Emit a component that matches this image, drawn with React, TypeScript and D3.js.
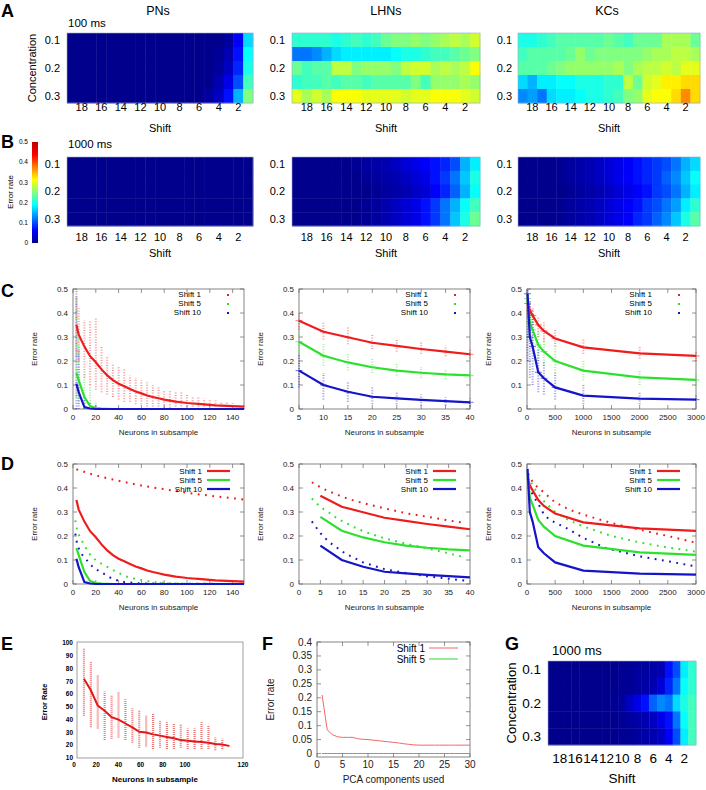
import React from 'react';
import * as d3 from 'd3';

// ---------- heatmap data (rows: concentration 0.1..0.3, columns: shift 19..1) ----------
const shifts = [19, 18, 17, 16, 15, 14, 13, 12, 11, 10, 9, 8, 7, 6, 5, 4, 3, 2, 1];
const shiftTicks = [18, 16, 14, 12, 10, 8, 6, 4, 2];
const concentrations = [0.1, 0.15, 0.2, 0.25, 0.3];
const concTicks = [0.1, 0.2, 0.3];
const colorTicks = [0, 0.1, 0.2, 0.3, 0.4, 0.5];

const pn100 = [
  [0, 0, 0, 0, 0, 0, 0, 0, 0, 0, 0, 0, 0, 0, 0, 0, 0.01, 0.06, 0.17],
  [0, 0, 0, 0, 0, 0, 0, 0, 0, 0, 0, 0, 0, 0, 0, 0.005, 0.02, 0.07, 0.19],
  [0, 0, 0, 0, 0, 0, 0, 0, 0, 0, 0, 0, 0, 0, 0, 0.01, 0.03, 0.08, 0.2],
  [0, 0, 0, 0, 0, 0, 0, 0, 0, 0, 0, 0, 0, 0, 0, 0.02, 0.05, 0.1, 0.22],
  [0, 0, 0, 0, 0, 0, 0, 0, 0, 0, 0, 0, 0, 0, 0.01, 0.03, 0.07, 0.15, 0.25],
];
const lhn100 = [
  [0.21, 0.21, 0.21, 0.21, 0.2, 0.21, 0.22, 0.21, 0.22, 0.24, 0.25, 0.25, 0.26, 0.25, 0.26, 0.27, 0.28, 0.27, 0.29],
  [0.12, 0.12, 0.13, 0.15, 0.17, 0.18, 0.18, 0.18, 0.18, 0.18, 0.19, 0.2, 0.2, 0.21, 0.22, 0.22, 0.23, 0.24, 0.25],
  [0.24, 0.22, 0.23, 0.23, 0.28, 0.28, 0.25, 0.26, 0.26, 0.26, 0.25, 0.28, 0.29, 0.29, 0.27, 0.28, 0.27, 0.28, 0.31],
  [0.21, 0.22, 0.22, 0.23, 0.22, 0.23, 0.23, 0.22, 0.23, 0.23, 0.23, 0.23, 0.25, 0.22, 0.26, 0.26, 0.26, 0.27, 0.26],
  [0.3, 0.27, 0.29, 0.27, 0.31, 0.31, 0.31, 0.3, 0.3, 0.3, 0.3, 0.29, 0.3, 0.3, 0.31, 0.31, 0.31, 0.3, 0.29],
];
const kc100 = [
  [0.2, 0.2, 0.21, 0.22, 0.23, 0.23, 0.23, 0.23, 0.23, 0.24, 0.23, 0.22, 0.24, 0.24, 0.24, 0.27, 0.27, 0.27, 0.24],
  [0.22, 0.23, 0.23, 0.23, 0.23, 0.24, 0.26, 0.24, 0.25, 0.25, 0.25, 0.25, 0.25, 0.26, 0.27, 0.27, 0.28, 0.28, 0.27],
  [0.23, 0.23, 0.23, 0.24, 0.25, 0.26, 0.26, 0.26, 0.26, 0.26, 0.27, 0.25, 0.27, 0.28, 0.28, 0.29, 0.28, 0.3, 0.3],
  [0.17, 0.15, 0.18, 0.18, 0.19, 0.19, 0.2, 0.2, 0.2, 0.21, 0.21, 0.28, 0.24, 0.29, 0.3, 0.32, 0.32, 0.33, 0.33],
  [0.13, 0.14, 0.12, 0.17, 0.18, 0.18, 0.19, 0.2, 0.2, 0.21, 0.22, 0.25, 0.26, 0.3, 0.31, 0.31, 0.33, 0.37, 0.33],
];
const pn1000 = [
  [0, 0, 0, 0, 0, 0, 0, 0, 0, 0, 0, 0, 0, 0, 0, 0, 0, 0, 0],
  [0, 0, 0, 0, 0, 0, 0, 0, 0, 0, 0, 0, 0, 0, 0, 0, 0, 0, 0],
  [0, 0, 0, 0, 0, 0, 0, 0, 0, 0, 0, 0, 0, 0, 0, 0, 0, 0, 0],
  [0, 0, 0, 0, 0, 0, 0, 0, 0, 0, 0, 0, 0, 0, 0, 0, 0, 0, 0],
  [0, 0, 0, 0, 0, 0, 0, 0, 0, 0, 0, 0, 0, 0, 0, 0, 0, 0, 0],
];
const lhn1000 = [
  [0, 0, 0, 0, 0, 0, 0.005, 0.01, 0.015, 0.02, 0.03, 0.04, 0.05, 0.06, 0.07, 0.08, 0.1, 0.15, 0.18],
  [0, 0, 0, 0, 0, 0, 0, 0.005, 0.01, 0.015, 0.02, 0.03, 0.04, 0.05, 0.07, 0.09, 0.12, 0.16, 0.2],
  [0, 0, 0, 0, 0, 0, 0, 0, 0.005, 0.01, 0.015, 0.02, 0.03, 0.04, 0.06, 0.08, 0.11, 0.15, 0.19],
  [0, 0, 0, 0, 0, 0, 0, 0.005, 0.01, 0.02, 0.03, 0.04, 0.05, 0.07, 0.09, 0.12, 0.15, 0.19, 0.22],
  [0, 0, 0, 0, 0, 0, 0, 0.005, 0.01, 0.02, 0.03, 0.04, 0.05, 0.07, 0.09, 0.12, 0.16, 0.2, 0.24],
];
const kc1000 = [
  [0, 0, 0, 0, 0.005, 0.01, 0.015, 0.02, 0.03, 0.04, 0.05, 0.06, 0.07, 0.08, 0.09, 0.1, 0.12, 0.15, 0.17],
  [0, 0, 0, 0, 0.005, 0.01, 0.015, 0.02, 0.03, 0.04, 0.05, 0.06, 0.07, 0.08, 0.09, 0.11, 0.13, 0.16, 0.19],
  [0, 0, 0, 0, 0, 0.005, 0.01, 0.015, 0.02, 0.03, 0.04, 0.05, 0.06, 0.07, 0.09, 0.1, 0.12, 0.15, 0.18],
  [0, 0, 0, 0, 0.005, 0.01, 0.015, 0.02, 0.03, 0.04, 0.05, 0.06, 0.07, 0.09, 0.1, 0.12, 0.14, 0.18, 0.21],
  [0, 0, 0, 0, 0.005, 0.01, 0.015, 0.02, 0.03, 0.04, 0.05, 0.06, 0.08, 0.09, 0.11, 0.13, 0.16, 0.2, 0.23],
];
const g1000 = [
  [0, 0, 0, 0, 0, 0, 0, 0, 0, 0.005, 0.005, 0.01, 0.01, 0.015, 0.02, 0.07, 0.1, 0.18, 0.21],
  [0, 0, 0, 0, 0, 0, 0, 0, 0, 0.005, 0.005, 0.01, 0.015, 0.02, 0.04, 0.08, 0.12, 0.19, 0.21],
  [0, 0, 0, 0, 0, 0, 0, 0, 0.005, 0.01, 0.03, 0.05, 0.07, 0.11, 0.13, 0.12, 0.17, 0.2, 0.22],
  [0, 0, 0, 0, 0, 0, 0, 0, 0, 0.005, 0.01, 0.015, 0.02, 0.03, 0.05, 0.07, 0.12, 0.19, 0.22],
  [0, 0, 0, 0, 0, 0, 0, 0, 0, 0.005, 0.005, 0.01, 0.015, 0.02, 0.03, 0.06, 0.1, 0.18, 0.22],
];

// ---------- C / D : PNs ----------
const pnN = [3, 5, 10, 15, 20, 25, 30, 35, 40, 45, 50, 55, 60, 65, 70, 75, 80, 85, 90, 95, 100, 105, 110, 115, 120, 125, 130, 135, 140, 145, 150];
const pnMean1 = [0.35, 0.31, 0.26, 0.22, 0.195, 0.165, 0.14, 0.12, 0.105, 0.095, 0.083, 0.073, 0.065, 0.056, 0.05, 0.045, 0.039, 0.035, 0.031, 0.028, 0.025, 0.023, 0.021, 0.019, 0.017, 0.015, 0.014, 0.013, 0.012, 0.011, 0.01];
const pnMean5 = [0.15, 0.12, 0.05, 0.012, 0.004, 0.002, 0.001, 0, 0, 0, 0, 0, 0, 0, 0, 0, 0, 0, 0, 0, 0, 0, 0, 0, 0, 0, 0, 0, 0, 0, 0];
const pnMean10 = [0.105, 0.07, 0.008, 0.002, 0, 0, 0, 0, 0, 0, 0, 0, 0, 0, 0, 0, 0, 0, 0, 0, 0, 0, 0, 0, 0, 0, 0, 0, 0, 0, 0];
const pnRange1 = [[0.22, 0.47], [0.2, 0.42], [0.13, 0.37], [0.1, 0.37], [0.08, 0.38], [0.07, 0.26], [0.06, 0.22], [0.05, 0.19], [0.04, 0.18], [0.03, 0.17], [0.03, 0.14], [0.02, 0.13], [0.02, 0.12], [0.01, 0.11], [0.01, 0.1], [0.01, 0.09], [0.005, 0.08], [0.005, 0.08], [0, 0.07], [0, 0.07], [0, 0.06], [0, 0.05], [0, 0.05], [0, 0.045], [0, 0.04], [0, 0.035], [0, 0.03], [0, 0.03], [0, 0.025], [0, 0.02], [0, 0.02]];
const pnRange5 = [[0.05, 0.47], [0.02, 0.3], [0, 0.15], [0, 0.1], [0, 0.03]];
const pnRange10 = [[0, 0.5], [0, 0.25], [0, 0.05], [0, 0.03], [0, 0.02]];
const pnDotN1 = [3, 20, 40, 60, 80, 100, 120, 150];
const pnDot1 = [0.478, 0.452, 0.43, 0.41, 0.395, 0.38, 0.368, 0.352];
const pnDotN5 = [2, 4, 10, 15, 21, 29, 37, 46, 58, 70, 85, 100, 150];
const pnDot5 = [0.265, 0.215, 0.16, 0.122, 0.094, 0.074, 0.053, 0.032, 0.018, 0.008, 0.003, 0.001, 0];
const pnDotN10 = [2, 4, 8, 13, 18, 26, 35, 45, 60, 150];
const pnDot10 = [0.21, 0.157, 0.122, 0.094, 0.067, 0.046, 0.02, 0.008, 0.002, 0];

// ---------- C / D : LHNs ----------
const lhnN = [5, 10, 15, 20, 25, 30, 35, 40];
const lhnMean1 = [0.368, 0.322, 0.299, 0.276, 0.263, 0.25, 0.239, 0.228];
const lhnMean5 = [0.28, 0.222, 0.194, 0.174, 0.16, 0.151, 0.144, 0.14];
const lhnMean10 = [0.16, 0.1, 0.072, 0.051, 0.044, 0.038, 0.033, 0.028];
const lhnRange1 = [[0.33, 0.4], [0.29, 0.36], [0.27, 0.34], [0.25, 0.31], [0.24, 0.29], [0.23, 0.28], [0.22, 0.265], [0.21, 0.25]];
const lhnRange5 = [[0.22, 0.32], [0.18, 0.27], [0.16, 0.235], [0.15, 0.21], [0.14, 0.19], [0.13, 0.175], [0.125, 0.165], [0.12, 0.16]];
const lhnRange10 = [[0.09, 0.23], [0.04, 0.15], [0.03, 0.11], [0.02, 0.09], [0.02, 0.07], [0.015, 0.06], [0.015, 0.05], [0.01, 0.045]];
const lhnDotN = [3, 5, 7, 9, 11, 13, 15, 20, 25, 30, 35, 39];
const lhnDot1 = [0.424, 0.403, 0.386, 0.372, 0.358, 0.347, 0.337, 0.315, 0.295, 0.28, 0.265, 0.254];
const lhnDot5 = [0.356, 0.321, 0.298, 0.272, 0.254, 0.236, 0.22, 0.19, 0.168, 0.148, 0.128, 0.11];
const lhnDot10 = [0.261, 0.212, 0.175, 0.15, 0.125, 0.108, 0.09, 0.062, 0.046, 0.032, 0.022, 0.014];

// ---------- C / D : KCs ----------
const kcN = [10, 50, 100, 200, 300, 500, 1000, 2000, 3000];
const kcMean1 = [0.44, 0.41, 0.39, 0.35, 0.325, 0.294, 0.257, 0.232, 0.221];
const kcMean5 = [0.46, 0.36, 0.33, 0.267, 0.239, 0.2, 0.16, 0.132, 0.121];
const kcMean10 = [0.48, 0.3, 0.26, 0.153, 0.128, 0.09, 0.056, 0.043, 0.039];
const kcRange1 = [[0.38, 0.5], [0.36, 0.45], [0.35, 0.42], [0.3, 0.38], [0.28, 0.36], [0.26, 0.33], [0.23, 0.29], [0.21, 0.26], [0.2, 0.24]];
const kcRange5 = [[0.3, 0.5], [0.28, 0.43], [0.24, 0.4], [0.2, 0.33], [0.18, 0.3], [0.15, 0.26], [0.12, 0.2], [0.1, 0.16], [0.1, 0.15]];
const kcRange10 = [[0.2, 0.5], [0.13, 0.45], [0.1, 0.4], [0.07, 0.25], [0.06, 0.2], [0.04, 0.15], [0.02, 0.1], [0.02, 0.07], [0.02, 0.06]];
const kcDotN1 = [20, 100, 200, 300, 400, 500, 750, 1000, 1500, 2000, 2500, 3000];
const kcDot1 = [0.46, 0.425, 0.4, 0.382, 0.36, 0.34, 0.31, 0.289, 0.254, 0.226, 0.2, 0.172];
const kcDotN5 = [20, 100, 200, 300, 500, 750, 1000, 1500, 2000, 2500, 3000];
const kcDot5 = [0.45, 0.41, 0.375, 0.345, 0.3, 0.265, 0.24, 0.2, 0.173, 0.152, 0.135];
const kcDotN10 = [20, 100, 200, 300, 400, 700, 1000, 1400, 2000, 2500, 3000];
const kcDot10 = [0.44, 0.37, 0.335, 0.29, 0.268, 0.233, 0.192, 0.15, 0.115, 0.095, 0.073];

// ---------- E ----------
const eN = [5, 10, 15, 20, 25, 30, 35, 40, 45, 50, 55, 60, 65, 70, 75, 80, 85, 90, 95, 100, 105, 110];
const eMean = [72, 63, 51, 47, 42, 40, 37, 34, 30.5, 30, 28.5, 27.5, 26.5, 25.5, 24, 23.5, 23, 22.5, 22, 21, 20.5, 19.5];
const eRange = [[43, 96], [34, 85], [33, 75], [24, 62], [25, 59], [26, 62], [24, 56], [22, 49], [18, 47], [19, 43], [17, 45], [18, 39], [17, 38], [17, 37], [18, 36], [17, 33], [17, 33], [17, 38], [17, 35], [16, 26], [17, 25], [19, 20]];
const eYTicks = [10, 20, 30, 40, 50, 60, 70, 80, 90, 100];
const eXTicks = [0, 20, 40, 60, 80, 100];

// ---------- F ----------
const pcaN = [1, 2, 3, 4, 5, 6, 7, 8, 9, 10, 11, 12, 13, 14, 15, 16, 17, 18, 19, 20, 21, 22, 23, 24, 25, 26, 27, 28, 29, 30];
const pcaShift1 = [0.21, 0.085, 0.068, 0.06, 0.058, 0.058, 0.058, 0.053, 0.051, 0.05, 0.048, 0.046, 0.044, 0.042, 0.04, 0.038, 0.035, 0.033, 0.031, 0.03, 0.03, 0.03, 0.03, 0.03, 0.03, 0.03, 0.03, 0.03, 0.03, 0.03];
const pcaShift5 = [0, 0, 0, 0, 0, 0, 0, 0, 0, 0, 0, 0, 0, 0, 0, 0, 0, 0, 0, 0, 0, 0, 0, 0, 0, 0, 0, 0, 0, 0];
const fYTicks = [0, 0.05, 0.1, 0.15, 0.2, 0.25, 0.3, 0.35, 0.4];
const fXTicks = [0, 5, 10, 15, 20, 25, 30];

const errTicks = [0, 0.1, 0.2, 0.3, 0.4, 0.5];
const seriesNames = ['Shift 1', 'Shift 5', 'Shift 10'];

const FONT = "'Liberation Sans', Arial, Helvetica, sans-serif";
const RED = '#ee1c1c';
const GREEN = '#2ee02e';
const BLUE = '#1414c8';
const colors = [RED, GREEN, BLUE];

const jetStops = [0, 0.0625, 0.1875, 0.3125, 0.4375, 0.5];
const jetColors = ['#00008c', '#0000ff', '#00ffff', '#ffff00', '#ff0000', '#c00000'];
const jet = d3.scaleLinear<string>().domain(jetStops).range(jetColors).clamp(true);

const fmt = (v: number) => (v === 0 ? '0' : String(+v.toFixed(2)));

function Heatmap({ data, x0, x1, y0, y1, fs, labelRight, tickY, shiftY }: any) {
  const x = d3.scaleBand<number>().domain(shifts).range([x0, x1]);
  const y = d3.scaleBand<number>().domain(concentrations).range([y0, y1]);
  return (
    <g fontSize={fs}>
      {data.map((row: number[], i: number) =>
        row.map((v, j) => (
          <rect key={`${i}-${j}`} x={x(shifts[j])} y={y(concentrations[i])}
            width={x.bandwidth() + 0.4} height={y.bandwidth() + 0.4} fill={jet(v)} />
        )))}
      <rect x={x0} y={y0} width={x1 - x0} height={y1 - y0} fill="none" stroke="#9aa8d0" strokeWidth={0.6} />
      {concTicks.map((c) => (
        <text key={c} x={labelRight} y={(y(c) as number) + y.bandwidth() / 2} dy="0.36em" textAnchor="end">{c}</text>
      ))}
      {shiftTicks.map((s) => (
        <text key={s} x={(x(s) as number) + x.bandwidth() / 2} y={tickY} textAnchor="middle">{s}</text>
      ))}
      <text x={(x0 + x1) / 2} y={shiftY} textAnchor="middle">Shift</text>
    </g>
  );
}

// gnuplot-like frame with mirrored inward ticks
function Frame({ xs, ys, xTicks, yTicks, fs, xLabel, yLabel, xFmt = fmt, yFmt = fmt, yLabelDx = 36 }: any) {
  const [x0, x1] = xs.range();
  const [y1, y0] = ys.range();
  const t = 4;
  return (
    <g fontSize={fs} fill="#222">
      <rect x={x0} y={y0} width={x1 - x0} height={y1 - y0} fill="none" stroke="#666" strokeWidth={0.8} />
      {xTicks.map((v: number) => (
        <g key={'x' + v}>
          <line x1={xs(v)} x2={xs(v)} y1={y1} y2={y1 - t} stroke="#666" strokeWidth={0.7} />
          <line x1={xs(v)} x2={xs(v)} y1={y0} y2={y0 + t} stroke="#666" strokeWidth={0.7} />
          <text x={xs(v)} y={y1 + 11} textAnchor="middle">{xFmt(v)}</text>
        </g>
      ))}
      {yTicks.map((v: number) => (
        <g key={'y' + v}>
          <line x1={x0} x2={x0 + t} y1={ys(v)} y2={ys(v)} stroke="#666" strokeWidth={0.7} />
          <line x1={x1} x2={x1 - t} y1={ys(v)} y2={ys(v)} stroke="#666" strokeWidth={0.7} />
          <text x={x0 - 5} y={ys(v)} dy="0.35em" textAnchor="end">{yFmt(v)}</text>
        </g>
      ))}
      <text x={(x0 + x1) / 2} y={y1 + 26} textAnchor="middle">{xLabel}</text>
      <text transform={`translate(${x0 - yLabelDx},${(y0 + y1) / 2}) rotate(-90)`} textAnchor="middle">{yLabel}</text>
    </g>
  );
}

function ScatterPanel({ x0, x1, y0, y1, xDomain, xTicks, n, means, ranges, legendX, crossbars }: any) {
  const xs = d3.scaleLinear().domain(xDomain).range([x0, x1]);
  const ys = d3.scaleLinear().domain([0, 0.5]).range([y1, y0]);
  const line = d3.line<number>().x((_, i) => xs(n[i])).y((d) => ys(d));
  return (
    <g>
      <Frame xs={xs} ys={ys} xTicks={xTicks} yTicks={errTicks} fs={8} xLabel="Neurons in subsample" yLabel="Error rate" />
      {ranges.map((rs: number[][], k: number) =>
        rs.map(([lo, hi], i) => (
          <g key={`${k}-${i}`}>
            <line x1={xs(n[i])} x2={xs(n[i])} y1={ys(lo)} y2={ys(hi)} stroke={colors[k]}
              strokeWidth={2} strokeDasharray="1 1.6" opacity={0.45} />
            {crossbars && (
              <line x1={xs(n[i]) - 3.5} x2={xs(n[i]) + 3.5} y1={ys(means[k][i])} y2={ys(means[k][i])}
                stroke={colors[k]} strokeWidth={1} opacity={0.6} />
            )}
          </g>
        )))}
      {means.map((m: number[], k: number) => (
        <path key={k} d={line(m) as string} fill="none" stroke={colors[k]} strokeWidth={2.2} />
      ))}
      {seriesNames.map((s, k) => (
        <g key={s} fontSize={8}>
          <text x={legendX} y={y0 + 8 + k * 9} textAnchor="end">{s}</text>
          <rect x={legendX + 26} y={y0 + 5 + k * 9} width={2} height={2} fill={colors[k]} />
        </g>
      ))}
    </g>
  );
}

function ModelPanel({ x0, x1, y0, y1, xDomain, xTicks, n, means, dotN, dots, legendX }: any) {
  const xs = d3.scaleLinear().domain(xDomain).range([x0, x1]);
  const ys = d3.scaleLinear().domain([0, 0.5]).range([y1, y0]);
  return (
    <g>
      <Frame xs={xs} ys={ys} xTicks={xTicks} yTicks={errTicks} fs={8} xLabel="Neurons in subsample" yLabel="Error rate" />
      {dots.map((d: number[], k: number) => {
        const l = d3.line<number>().x((_, i) => xs(dotN[k][i])).y((v) => ys(v));
        return <path key={'d' + k} d={l(d) as string} fill="none" stroke={colors[k]} strokeWidth={2} strokeDasharray="1.8 5.5" />;
      })}
      {means.map((m: number[], k: number) => {
        const l = d3.line<number>().x((_, i) => xs(n[i])).y((v) => ys(v));
        return <path key={'m' + k} d={l(m) as string} fill="none" stroke={colors[k]} strokeWidth={2.2} />;
      })}
      {seriesNames.map((s, k) => (
        <g key={s} fontSize={8}>
          <text x={legendX} y={y0 + 10 + k * 9} textAnchor="end">{s}</text>
          <line x1={legendX + 5} x2={legendX + 28} y1={y0 + 7 + k * 9} y2={y0 + 7 + k * 9} stroke={colors[k]} strokeWidth={2.2} />
        </g>
      ))}
    </g>
  );
}

function PanelE() {
  const xs = d3.scaleLinear().domain([0, 120]).range([77, 243]);
  const ys = d3.scaleLinear().domain([10, 100]).range([758, 643]);
  // tick labels in the source sit compressed to the left of the data scale
  const xl = d3.scaleLinear().domain([0, 100]).range([74, 185]);
  const line = d3.line<number>().x((_, i) => xs(eN[i])).y((d) => ys(d));
  return (
    <g fontFamily={FONT} fontWeight="bold">
      <rect x={77} y={642} width={166} height={116} fill="none" stroke="#888" strokeWidth={0.8} />
      {eRange.map(([lo, hi], i) => (
        <line key={i} x1={xs(eN[i])} x2={xs(eN[i])} y1={ys(lo)} y2={ys(hi)} stroke="#e82020"
          strokeWidth={2.2} strokeDasharray="1 1" opacity={0.6} />
      ))}
      <path d={line(eMean) as string} fill="none" stroke="#e01818" strokeWidth={2} />
      <g fontSize={6.5}>
        {eYTicks.map((v) => (
          <text key={v} x={73} y={ys(v)} dy="0.35em" textAnchor="end">{v}</text>
        ))}
        {eXTicks.map((v) => (
          <text key={v} x={xl(v)} y={767} textAnchor="middle">{v}</text>
        ))}
        <text x={xs(120)} y={767} textAnchor="middle">120</text>
      </g>
      <text fontSize={7.5} transform="translate(47,702) rotate(-90)" textAnchor="middle">Error Rate</text>
      <text fontSize={8} x={155} y={782} textAnchor="middle">Neurons in subsample</text>
    </g>
  );
}

function PanelF() {
  const xs = d3.scaleLinear().domain([0, 30]).range([317, 470]);
  const ys = d3.scaleLinear().domain([-0.0125, 0.4]).range([757, 642]);
  const mk = (vals: number[]) => d3.line<number>().x((_, i) => xs(pcaN[i])).y((d) => ys(d))(vals) as string;
  return (
    <g>
      <Frame xs={xs} ys={ys} xTicks={fXTicks} yTicks={fYTicks} fs={10} xLabel="PCA components used" yLabel="Error rate" yLabelDx={43} />
      <path d={mk(pcaShift1)} fill="none" stroke="#f06868" strokeWidth={1} />
      <path d={mk(pcaShift5)} fill="none" stroke="#30d830" strokeWidth={1} />
      <g fontSize={10}>
        <text x={425} y={652} textAnchor="end">Shift 1</text>
        <line x1={429} x2={458} y1={648} y2={648} stroke="#f06868" strokeWidth={1} />
        <text x={425} y={663} textAnchor="end">Shift 5</text>
        <line x1={429} x2={458} y1={659} y2={659} stroke="#30d830" strokeWidth={1} />
      </g>
    </g>
  );
}

function Colorbar() {
  const ys = d3.scaleLinear().domain([0, 0.5]).range([243, 142]);
  return (
    <g fontSize={6.5}>
      <defs>
        <linearGradient id="jetGrad" x1="0" y1="1" x2="0" y2="0">
          {jetStops.map((s, i) => (
            <stop key={s} offset={s / 0.5} stopColor={jetColors[i]} />
          ))}
        </linearGradient>
      </defs>
      <rect x={32} y={142} width={6} height={101} fill="url(#jetGrad)" />
      {colorTicks.map((v) => (
        <text key={v} x={28} y={ys(v)} dy="0.35em" textAnchor="end">{v}</text>
      ))}
      <text fontSize={8} transform="translate(13,192) rotate(-90)" textAnchor="middle">Error rate</text>
    </g>
  );
}

export default function App() {
  const hmA = { y0: 33, y1: 103, fs: 11, tickY: 111, shiftY: 132 };
  const hmB = { y0: 157, y1: 226, fs: 11, tickY: 241, shiftY: 257 };
  return (
    <svg width={706} height={790} style={{ position: 'absolute', left: 0, top: 0, background: '#fff' }}
      fontFamily={FONT}>
      <rect width={706} height={790} fill="#fff" />
      {/* panel letters */}
      <g fontSize={18} fontWeight="bold">
        <text x={1} y={17}>A</text>
        <text x={1} y={148}>B</text>
        <text x={1} y={297}>C</text>
        <text x={1} y={470}>D</text>
        <text x={1} y={650}>E</text>
        <text x={262} y={650}>F</text>
        <text x={505} y={650}>G</text>
      </g>
      {/* titles */}
      <g fontSize={12.5} textAnchor="middle">
        <text x={158} y={15}>PNs</text>
        <text x={386} y={15}>LHNs</text>
        <text x={607} y={15}>KCs</text>
      </g>
      <g fontSize={11.5}>
        <text x={68} y={27}>100 ms</text>
        <text x={68} y={148}>1000 ms</text>
      </g>
      <text fontSize={11} transform="translate(36,68) rotate(-90)" textAnchor="middle">Concentration</text>

      <Heatmap data={pn100} x0={67} x1={253} labelRight={60} {...hmA} />
      <Heatmap data={lhn100} x0={292} x1={480} labelRight={285} {...hmA} />
      <Heatmap data={kc100} x0={518} x1={700} labelRight={512} {...hmA} />
      <Heatmap data={pn1000} x0={67} x1={253} labelRight={60} {...hmB} />
      <Heatmap data={lhn1000} x0={292} x1={480} labelRight={285} {...hmB} />
      <Heatmap data={kc1000} x0={518} x1={700} labelRight={512} {...hmB} />
      <Colorbar />

      {/* C */}
      <ScatterPanel x0={73} x1={244} y0={289} y1={409} xDomain={[0, 150]} xTicks={[0, 20, 40, 60, 80, 100, 120, 140]}
        n={pnN} means={[pnMean1, pnMean5, pnMean10]} ranges={[pnRange1, pnRange5, pnRange10]} legendX={201} />
      <ScatterPanel x0={299} x1={470} y0={289} y1={409} xDomain={[5, 40]} xTicks={[5, 10, 15, 20, 25, 30, 35, 40]}
        n={lhnN} means={[lhnMean1, lhnMean5, lhnMean10]} ranges={[lhnRange1, lhnRange5, lhnRange10]} legendX={428} crossbars />
      <ScatterPanel x0={527} x1={696} y0={289} y1={409} xDomain={[0, 3000]} xTicks={[0, 500, 1000, 1500, 2000, 2500, 3000]}
        n={kcN} means={[kcMean1, kcMean5, kcMean10]} ranges={[kcRange1, kcRange5, kcRange10]} legendX={652} crossbars />

      {/* D */}
      <ModelPanel x0={73} x1={244} y0={464} y1={584} xDomain={[0, 150]} xTicks={[0, 20, 40, 60, 80, 100, 120, 140]}
        n={pnN} means={[pnMean1, pnMean5, pnMean10]} dotN={[pnDotN1, pnDotN5, pnDotN10]} dots={[pnDot1, pnDot5, pnDot10]} legendX={202} />
      <ModelPanel x0={299} x1={470} y0={464} y1={584} xDomain={[0, 40]} xTicks={[0, 5, 10, 15, 20, 25, 30, 35, 40]}
        n={lhnN} means={[lhnMean1, lhnMean5, lhnMean10]} dotN={[lhnDotN, lhnDotN, lhnDotN]} dots={[lhnDot1, lhnDot5, lhnDot10]} legendX={428} />
      <ModelPanel x0={527} x1={696} y0={464} y1={584} xDomain={[0, 3000]} xTicks={[0, 500, 1000, 1500, 2000, 2500, 3000]}
        n={kcN} means={[kcMean1, kcMean5, kcMean10]} dotN={[kcDotN1, kcDotN5, kcDotN10]} dots={[kcDot1, kcDot5, kcDot10]} legendX={652} />

      <PanelE />
      <PanelF />

      {/* G */}
      <text fontSize={13} x={552} y={655}>1000 ms</text>
      <text fontSize={13} transform="translate(516,703) rotate(-90)" textAnchor="middle">Concentration</text>
      <Heatmap data={g1000} x0={548} x1={696} y0={661} y1={745} fs={13.5} labelRight={541} tickY={763} shiftY={783} />
    </svg>
  );
}
